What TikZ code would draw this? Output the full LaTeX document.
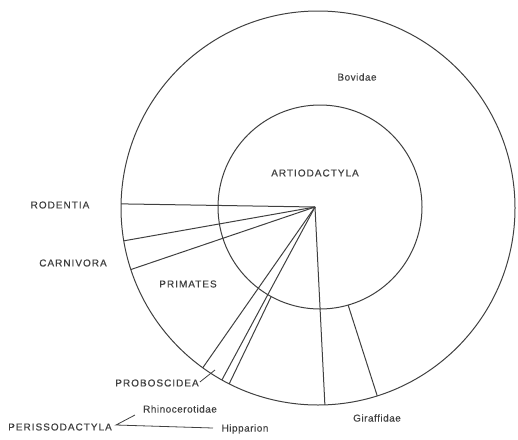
\documentclass[tikz,border=0pt]{standalone}
\usepackage{fontspec}
\setmainfont{Liberation Sans}
\newfontfamily\capsfont[LetterSpace=10,FakeBold=0.6]{Liberation Sans}
\newfontfamily\lcfont[LetterSpace=5,FakeBold=0.3]{Liberation Sans}
\usetikzlibrary{calc}
\definecolor{ink}{HTML}{404040}
\tikzset{
  ln/.style={draw=ink, line width=1pt},
  caps/.style={text=ink, inner sep=0pt, font=\capsfont\fontsize{10}{12}\selectfont},
  lc/.style={text=ink, inner sep=0pt, font=\lcfont\fontsize{10}{12}\selectfont}
}
\begin{document}
\begin{tikzpicture}[x=1pt,y=-1pt]
\useasboundingbox (0,0) rectangle (518,439);
\coordinate (O) at (318,208);
\coordinate (I) at (320,207);
\coordinate (A) at (315,207);
% circles
\draw[ln] (O) circle[radius=197pt];
\draw[ln] (I) circle[radius=102pt];
% outer end points
\coordinate (e1) at ($(O)+(181.2:197)$);
\coordinate (e2) at ($(O)+(170.4:197)$);
\coordinate (e3) at ($(O)+(161.8:197)$);
\coordinate (e4) at ($(O)+(125.8:197)$);
\coordinate (e5) at ($(O)+(119.2:197)$);
\coordinate (e6) at ($(O)+(116.8:197)$);
\coordinate (e7) at ($(O)+(88:197)$);
\coordinate (e8) at ($(O)+(72.5:197)$);
% inner start points
\coordinate (s6) at ($(I)+(118.6:102)$);
\coordinate (s8) at ($(I)+(74:102)$);
% radial lines
\draw[ln] (A) -- (e1);
\draw[ln] (A) -- (e2);
\draw[ln] (A) -- (e3);
\draw[ln] (A) -- (e4);
\draw[ln] (A) -- (e5);
\draw[ln] (s6) -- (e6);
\draw[ln] (A) -- (e7);
\draw[ln] (s8) -- (e8);
% labels
\node[lc] (bov) at (357,77) {Bovidae};
\node[caps] (art) at (315,173) {ARTIODACTYLA};
\node[caps] (rod) at (60,205) {RODENTIA};
\node[caps] (car) at (73,263) {CARNIVORA};
\node[caps] (pri) at (188,284) {PRIMATES};
\node[caps] (pro) at (157,383) {PROBOSCIDEA};
\node[caps] (per) at (60,427) {PERISSODACTYLA};
\node[lc] (rhi) at (180,409) {Rhinocerotidae};
\node[lc] (hip) at (245,429) {Hipparion};
\node[lc] (gir) at (377,418) {Giraffidae};
% leaders
\coordinate (pt) at (215,370);
\draw[ln, line width=0.8pt] ($(pro.east)+(1,-1)$) -- (pt);
\coordinate (pv) at (116,425);
\coordinate (rt) at (135,415);
\coordinate (ht) at (213,428);
\draw[ln, line width=0.8pt] (rt) -- (pv) -- (ht);
\end{tikzpicture}
\end{document}
